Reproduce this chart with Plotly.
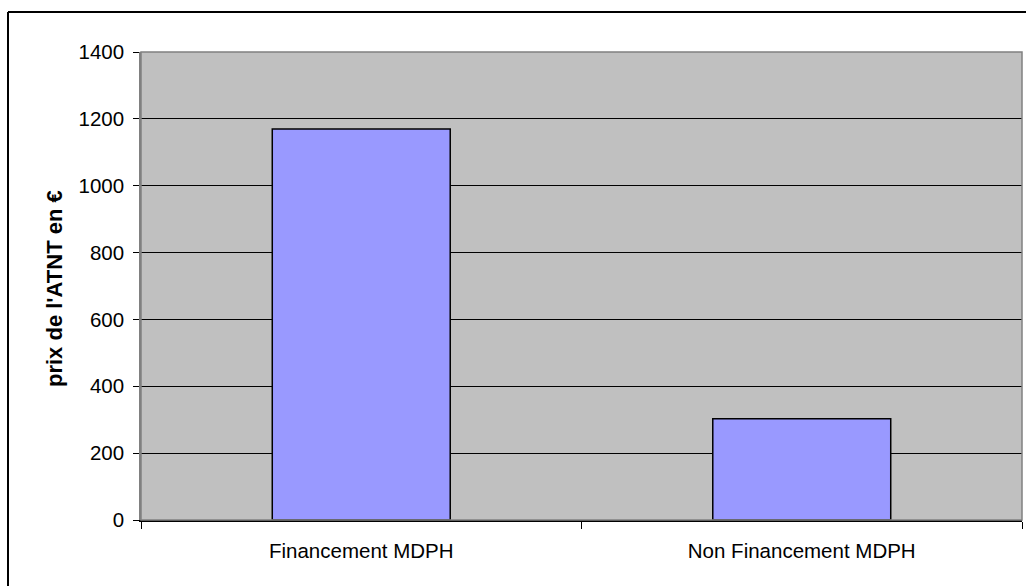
import plotly.graph_objects as go

categories = ["Financement MDPH", "Non Financement MDPH"]
values = [1170, 303]
y_ticks = [0, 200, 400, 600, 800, 1000, 1200, 1400]

FONT = "Liberation Sans, Arial, sans-serif"

fig = go.Figure()
fig.add_trace(go.Bar(
    x=categories, y=values, width=[0.404, 0.404],
    marker=dict(color="#9999FF", line=dict(color="black", width=1.5)),
))

L, R, T, B = 141, 4, 52, 66
W, H = 1026, 586
pw, ph = W - L - R, H - T - B

def px(x):
    return (x - L) / pw

def py(y):
    return (H - B - y) / ph

fig.update_layout(
    width=W, height=H,
    margin=dict(l=L, r=R, t=T, b=B, autoexpand=False),
    paper_bgcolor="white", plot_bgcolor="#C0C0C0",
    showlegend=False,
    font=dict(family=FONT, color="black", size=20.5),
    xaxis=dict(
        tickson="boundaries", ticks="outside", ticklen=7, tickcolor="black",
        showline=True, linecolor="black", linewidth=1.5,
        showgrid=False, tickfont=dict(size=20.5), ticklabelstandoff=12,
        range=[-0.5, 1.5],
    ),
    yaxis=dict(
        range=[0, 1400], tickvals=y_ticks, ticks="outside", ticklen=6,
        tickcolor="black", showgrid=True, gridcolor="black", gridwidth=1,
        showline=True, linecolor="#808080", linewidth=1.5,
        zeroline=False, tickfont=dict(size=20.5), ticklabelstandoff=5,
    ),
    shapes=[
        dict(type="rect", xref="paper", yref="paper", x0=0, x1=1, y0=0, y1=1,
             line=dict(color="#808080", width=1.5), layer="above"),
        dict(type="line", xref="paper", yref="paper", x0=px(8), x1=px(1030),
             y0=py(12), y1=py(12), line=dict(color="black", width=2)),
        dict(type="line", xref="paper", yref="paper", x0=px(8), x1=px(8),
             y0=py(12), y1=py(590), line=dict(color="black", width=2)),
    ],
    annotations=[
        dict(text="<b>prix de l'ATNT en €</b>", textangle=-90, xref="paper",
             yref="paper", x=px(54), y=py(289), xanchor="center",
             yanchor="middle", showarrow=False, font=dict(size=22)),
    ],
)

fig.write_html("out.html")
